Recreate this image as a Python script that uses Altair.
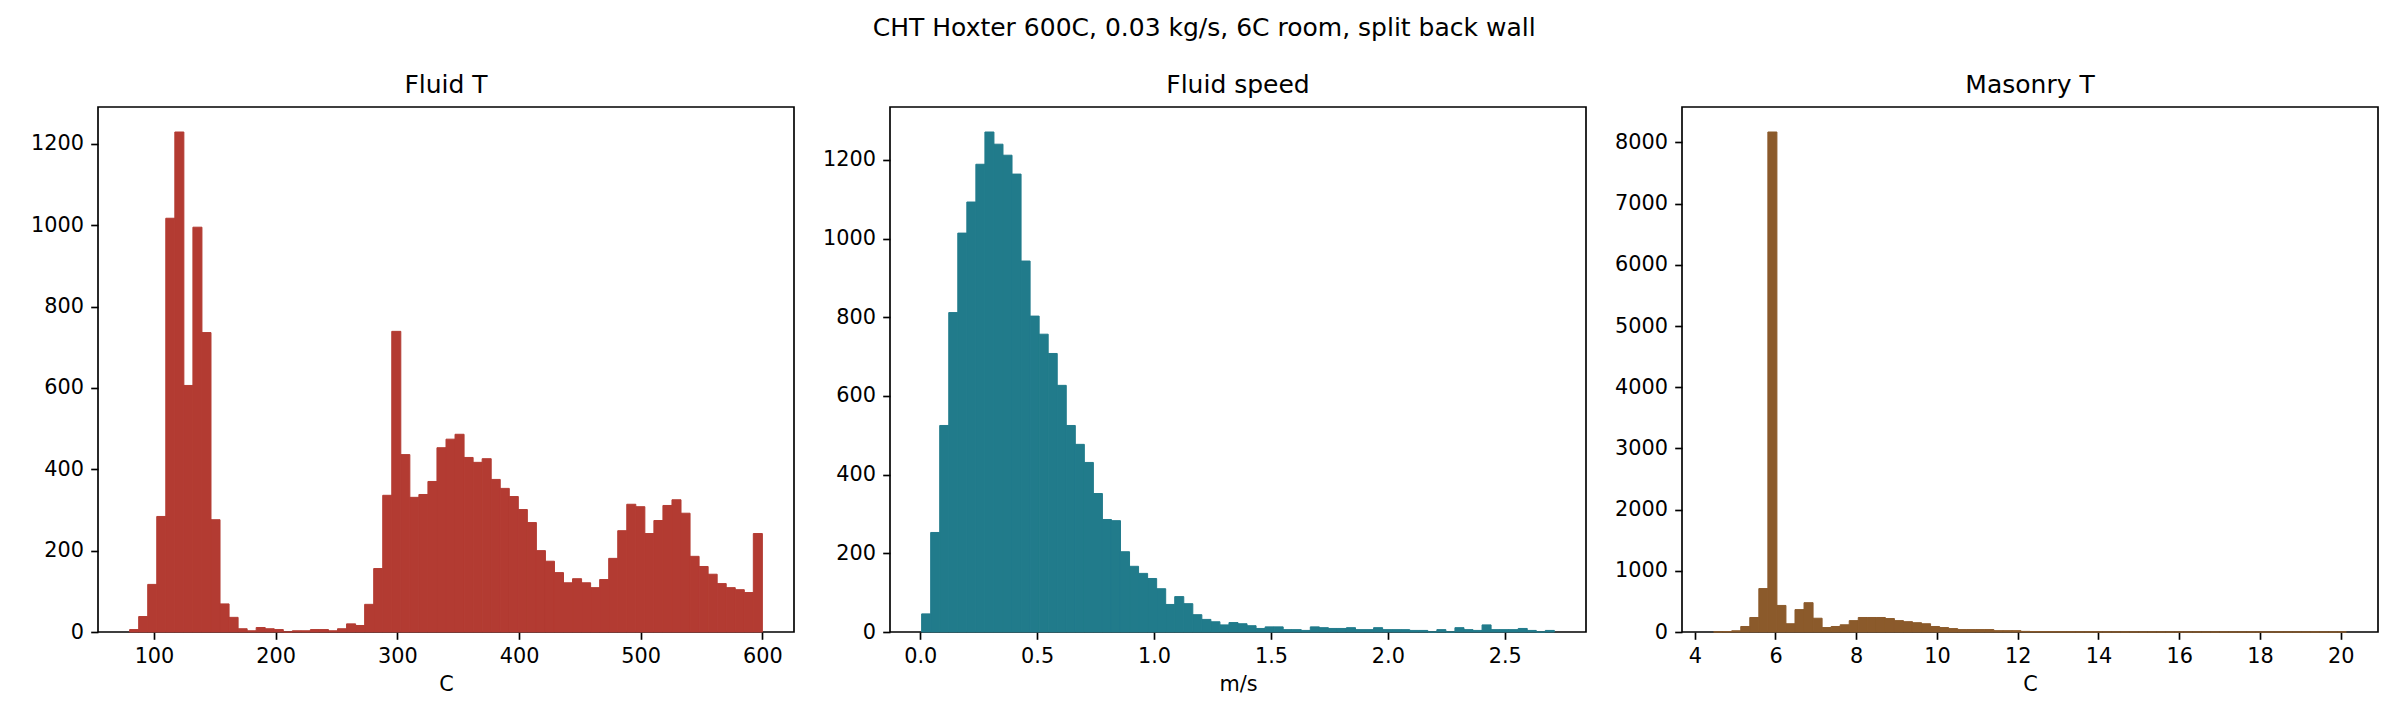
import altair as alt
import numpy as np
import pandas as pd

SUPTITLE = "CHT Hoxter 600C, 0.03 kg/s, 6C room, split back wall"

# ---- Panel 1: Fluid T (70 bins) ----
fluid_t_title = "Fluid T"
fluid_t_xlabel = "C"
fluid_t_range = [80.0, 600.0]
fluid_t_counts = [6, 38, 117, 284, 1017, 1229, 606, 995, 736, 276,
                  69, 36, 8, 3, 11, 8, 6, 0, 3, 3,
                  6, 6, 3, 8, 20, 16, 68, 156, 336, 739,
                  436, 331, 338, 370, 453, 474, 486, 429, 417, 426,
                  375, 353, 333, 301, 269, 200, 174, 146, 121, 131,
                  121, 109, 129, 181, 249, 314, 308, 242, 274, 311,
                  325, 292, 186, 161, 142, 119, 109, 104, 97, 242]
fluid_t_xticks = [100, 200, 300, 400, 500, 600]
fluid_t_yticks = [0, 200, 400, 600, 800, 1000, 1200]

# ---- Panel 2: Fluid speed (70 bins) ----
fluid_v_title = "Fluid speed"
fluid_v_xlabel = "m/s"
fluid_v_range = [0.006, 2.712]
fluid_v_counts = [46, 253, 525, 812, 1014, 1093, 1189, 1271, 1240, 1212,
                  1164, 943, 803, 757, 708, 627, 525, 477, 431, 352,
                  286, 283, 204, 167, 149, 136, 110, 70, 90, 72,
                  44, 32, 26, 18, 24, 21, 16, 9, 13, 13,
                  6, 6, 4, 13, 11, 9, 9, 11, 6, 6,
                  11, 6, 6, 6, 4, 4, 0, 6, 0, 11,
                  6, 4, 18, 6, 6, 6, 9, 4, 0, 4]
fluid_v_xticks = [0.0, 0.5, 1.0, 1.5, 2.0, 2.5]
fluid_v_yticks = [0, 200, 400, 600, 800, 1000, 1200]

# ---- Panel 3: Masonry T (70 bins) ----
mas_title = "Masonry T"
mas_xlabel = "C"
mas_range = [4.468, 20.14]
mas_counts = [2, 6, 20, 90, 237, 710, 8170, 434, 135, 366,
               479, 225, 73, 90, 118, 186, 237, 237, 237, 220,
               186, 169, 152, 135, 90, 73, 56, 40, 40, 40,
               40, 22, 22, 22, 10, 7, 5, 4, 3, 3,
               2, 2, 2, 1, 1, 1, 1, 0, 1, 1,
               0, 1, 0, 1, 0, 0, 1, 0, 0, 1,
               0, 0, 1, 0, 0, 0, 1, 0, 0, 1]
mas_xticks = [4, 6, 8, 10, 12, 14, 16, 18, 20]
mas_yticks = [0, 1000, 2000, 3000, 4000, 5000, 6000, 7000, 8000]

COLORS = ["#b33b32", "#217b8b", "#8b5a2b"]
FONT = "DejaVu Sans"
W, H = 696, 525


def panel(title, xlabel, rng, counts, color, xticks, yticks, xfmt):
    lo, hi = rng
    edges = np.linspace(lo, hi, len(counts) + 1)
    df = pd.DataFrame({"start": edges[:-1], "end": edges[1:],
                       "count": counts, "base": [0] * len(counts)})
    span = hi - lo
    xdom = [lo - 0.05 * span, hi + 0.05 * span]
    ydom = [0, max(counts) * 1.05]
    return (
        alt.Chart(df, title=alt.TitleParams(title, fontSize=25, font=FONT,
                                            fontWeight="normal", color="black",
                                            offset=9))
        .mark_bar(color=color, stroke=color, strokeWidth=1.0)
        .encode(
            x=alt.X("start:Q",
                    scale=alt.Scale(domain=xdom, nice=False, zero=False),
                    axis=alt.Axis(values=xticks, format=xfmt, title=xlabel)),
            x2="end:Q",
            y=alt.Y("count:Q",
                    scale=alt.Scale(domain=ydom, nice=False),
                    axis=alt.Axis(values=yticks, format="d", title=None)),
            y2="base:Q",
        )
        .properties(width=W, height=H)
    )


p1 = panel(fluid_t_title, fluid_t_xlabel, fluid_t_range, fluid_t_counts,
           COLORS[0], fluid_t_xticks, fluid_t_yticks, "d")
p2 = panel(fluid_v_title, fluid_v_xlabel, fluid_v_range, fluid_v_counts,
           COLORS[1], fluid_v_xticks, fluid_v_yticks, ".1f")
p3 = panel(mas_title, mas_xlabel, mas_range, mas_counts,
           COLORS[2], mas_xticks, mas_yticks, "d")

chart = (
    alt.hconcat(p1, p2, p3, spacing=26)
    .properties(
        title=alt.TitleParams(SUPTITLE, fontSize=25, font=FONT, fontWeight="normal",
                              color="black", anchor="middle", offset=31),
        padding={"left": 29, "top": 16, "right": 20, "bottom": 10},
        background="white",
    )
    .configure_view(stroke="black", strokeWidth=1.67)
    .configure_axis(
        grid=False, domain=False,
        labelFont=FONT, labelFontSize=20.8, labelColor="black",
        tickColor="black", tickWidth=1.67, tickSize=7.3, labelPadding=7.3,
        titleFont=FONT, titleFontSize=20.8, titleFontWeight="normal",
        titleColor="black", titlePadding=8,
    )
)

chart.save("out.html", embed_options={"renderer": "svg", "actions": False})
